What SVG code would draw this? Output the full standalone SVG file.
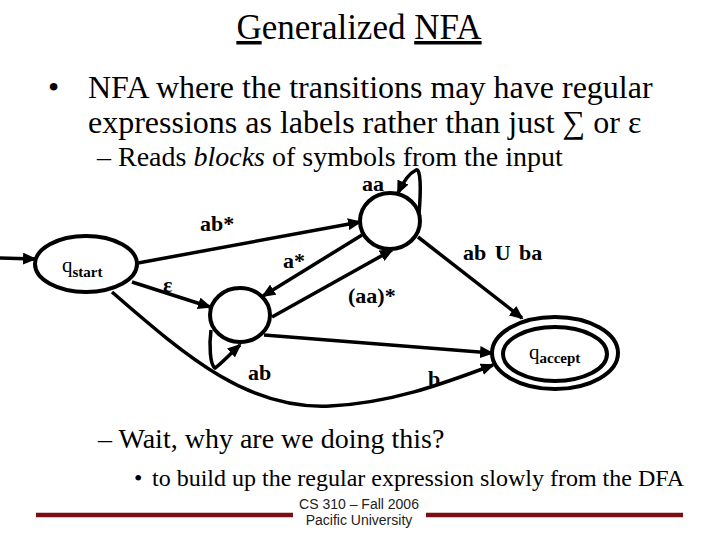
<svg xmlns="http://www.w3.org/2000/svg" width="720" height="540" viewBox="0 0 720 540">
<style>
.serif{font-family:"Liberation Serif","Times New Roman",serif;fill:#000}
.lbl{font-family:"Liberation Serif","Times New Roman",serif;font-weight:bold;font-size:22px;fill:#000}
.st{fill:none;stroke:#000;stroke-width:4}
.edge{fill:none;stroke:#000;stroke-width:3.5}
.foot{font-family:"Liberation Sans",Arial,sans-serif;font-size:14px;fill:#222;text-anchor:middle}
.bar{stroke:#7a0e14;stroke-width:4.5}
</style>
<defs>
<marker id="arr" markerUnits="userSpaceOnUse" markerWidth="14" markerHeight="12" refX="12" refY="6" orient="auto">
<path d="M0,0 L14,6 L0,12 z" fill="#000"/>
</marker>
</defs>
<rect width="720" height="540" fill="#fff"/>

<text class="serif" x="359" y="39" font-size="35" text-anchor="middle"><tspan text-decoration="underline">G</tspan>eneralized <tspan text-decoration="underline">NFA</tspan></text>

<text class="serif" x="48" y="98" font-size="32">•</text>
<text class="serif" x="88" y="98" font-size="32">NFA where the transitions may have regular</text>
<text class="serif" x="88" y="133" font-size="32">expressions as labels rather than just ∑ or ε</text>
<text class="serif" x="97" y="166" font-size="28">– Reads <tspan font-style="italic">blocks</tspan> of symbols from the input</text>

<g id="connectors">
<path class="edge" d="M0,258 L35,259" marker-end="url(#arr)"/>
<path class="edge" d="M138,263 L360,222" marker-end="url(#arr)"/>
<path class="edge" d="M132,282 L210,307" marker-end="url(#arr)"/>
<path class="edge" d="M362,235 L263,296" marker-end="url(#arr)"/>
<path class="edge" d="M272,317 L392,250" marker-end="url(#arr)"/>
<path class="edge" d="M419,214 C421,190 421,168 416,170 C410,173 403,182 398,193" marker-end="url(#arr)"/>
<path class="edge" d="M418,237 L522,318" marker-end="url(#arr)"/>
<path class="edge" d="M264,335 L492,353" marker-end="url(#arr)"/>
<path class="edge" d="M211,330 C209,345 210,365 215,368 C222,363 232,352 240,345" marker-end="url(#arr)"/>
<path class="edge" d="M112,292 C190,360 250,410 330,406 C390,403 440,385 493,365" marker-end="url(#arr)"/>
<text class="lbl" x="200" y="231">ab*</text>
<text class="lbl" x="163" y="292">ε</text>
<text class="lbl" x="283" y="268">a*</text>
<text class="lbl" x="362" y="191" font-size="20">aa</text>
<text class="lbl" x="463" y="260" word-spacing="3">ab U ba</text>
<text class="lbl" x="348" y="303">(aa)*</text>
<text class="lbl" x="248" y="380">ab</text>
<text class="lbl" x="428" y="386">b</text>
</g>

<g id="q_start">
<ellipse class="st" cx="86" cy="264" rx="51" ry="28"/>
<text class="serif" x="62" y="272" font-size="21">q<tspan font-size="15" font-weight="bold" dy="5">start</tspan></text>
</g>
<g id="q_mid">
<ellipse class="st" cx="240" cy="315" rx="30" ry="27"/>
</g>
<g id="q_top">
<ellipse class="st" cx="390" cy="221" rx="30" ry="28"/>
</g>
<g id="q_accept">
<ellipse class="st" cx="555" cy="353" rx="63" ry="36"/>
<ellipse class="st" cx="555" cy="354" rx="52" ry="27"/>
<text class="serif" x="529" y="359" font-size="21">q<tspan font-size="15" font-weight="bold" dy="4">accept</tspan></text>
</g>

<text class="serif" x="98" y="448" font-size="28">– Wait, why are we doing this?</text>
<text class="serif" x="134" y="486" font-size="24">•</text>
<text class="serif" x="152" y="486" font-size="24">to build up the regular expression slowly from the DFA</text>

<line class="bar" x1="36" y1="515" x2="293" y2="515"/>
<line class="bar" x1="426" y1="515" x2="683" y2="515"/>
<text class="foot" x="359" y="509">CS 310 – Fall 2006</text>
<text class="foot" x="359" y="525">Pacific University</text>
</svg>
